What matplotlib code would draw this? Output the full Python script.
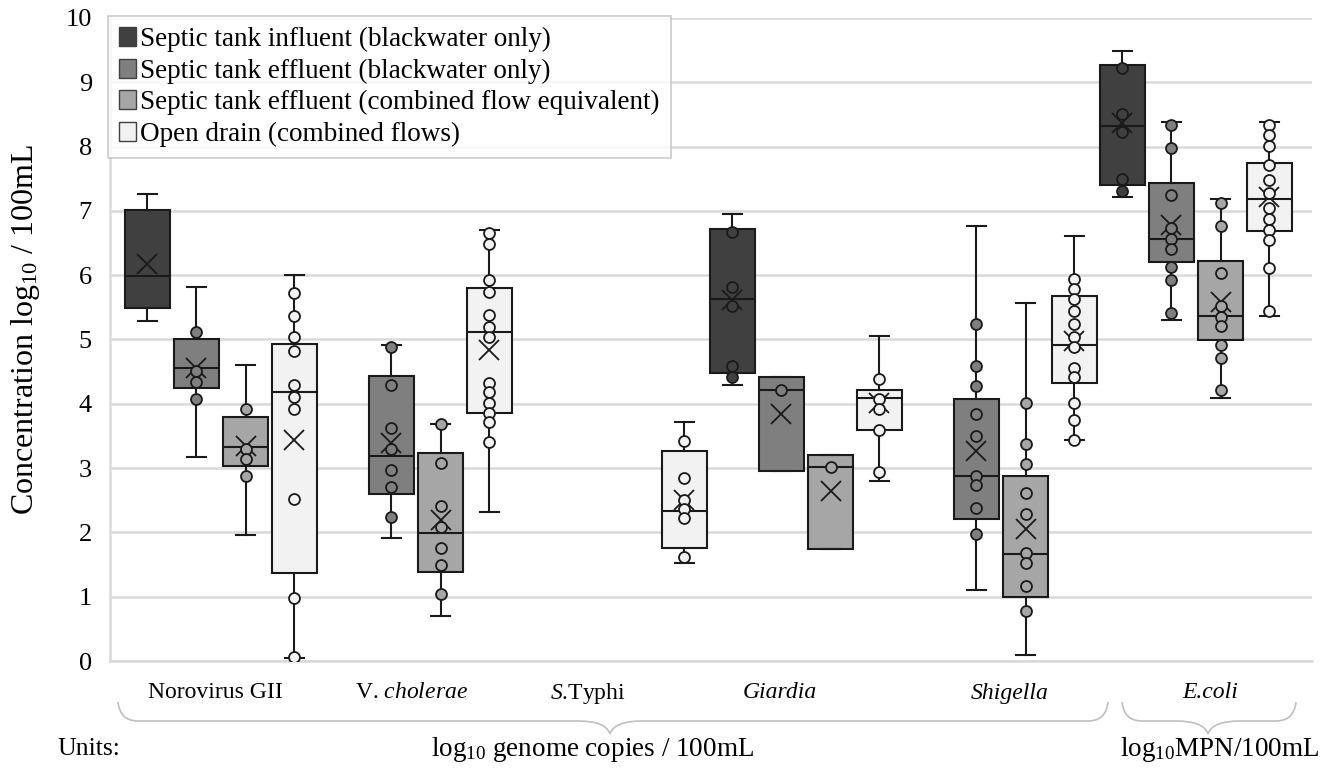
import matplotlib
matplotlib.use("Agg")
import matplotlib.pyplot as plt
from matplotlib.patches import Patch, PathPatch
from matplotlib.path import Path

plt.rcParams.update({
    "font.family": "Liberation Serif",
    "mathtext.fontset": "custom",
    "mathtext.rm": "Liberation Serif",
    "mathtext.it": "Liberation Serif:italic",
    "font.size": 15,
})

GROUPS = ["Norovirus GII", "V. $\\mathit{cholerae}$", "$\\mathit{S}$.Typhi",
          "Giardia", "Shigella", "E.coli"]
GROUP_ITALIC = [False, False, False, True, True, True]
SERIES = ["Septic tank influent (blackwater only)",
          "Septic tank effluent (blackwater only)",
          "Septic tank effluent (combined flow equivalent)",
          "Open drain (combined flows)"]
COLORS = ["#404040", "#7f7f7f", "#a6a6a6", "#f2f2f2"]

# (whisker low, q1, median, q3, whisker high, mean) per group, None = no data
influent_bw = [(5.29, 5.49, 5.99, 7.01, 7.26, 6.18), None, None,
               (4.30, 4.48, 5.63, 6.72, 6.95, 5.62), None,
               (7.22, 7.41, 8.32, 9.27, 9.49, 8.36)]
effluent_bw = [(3.18, 4.25, 4.55, 5.00, 5.81, 4.55),
               (1.91, 2.59, 3.19, 4.44, 4.91, 3.39), None,
               (2.96, 2.96, 4.21, 4.42, 4.42, 3.84),
               (1.10, 2.21, 2.88, 4.07, 6.77, 3.26),
               (5.30, 6.21, 6.56, 7.43, 8.39, 6.78)]
effluent_comb = [(1.96, 3.04, 3.33, 3.79, 4.60, 3.34),
                 (0.70, 1.38, 1.99, 3.23, 3.68, 2.19), None,
                 (1.74, 1.74, 3.01, 3.20, 3.20, 2.65),
                 (0.10, 1.00, 1.67, 2.87, 5.57, 2.05),
                 (4.09, 4.99, 5.37, 6.22, 7.18, 5.59)]
open_drain = [(0.05, 1.37, 4.19, 4.93, 6.01, 3.44),
              (2.31, 3.85, 5.11, 5.80, 6.70, 4.84),
              (1.52, 1.76, 2.34, 3.27, 3.71, 2.50),
              (2.80, 3.60, 4.09, 4.22, 5.05, 4.01),
              (3.43, 4.33, 4.91, 5.67, 6.61, 4.97),
              (5.37, 6.69, 7.18, 7.75, 8.39, 7.21)]

# individual sample points per group
influent_bw_pts = [[], [], [],
                   [6.67, 5.81, 5.52, 4.59, 4.41], [],
                   [9.22, 8.50, 8.23, 7.50, 7.31]]
effluent_bw_pts = [[5.12, 4.51, 4.34, 4.08],
                   [4.89, 4.29, 3.62, 3.29, 2.97, 2.70, 2.24], [],
                   [4.21],
                   [5.24, 4.59, 4.28, 3.84, 3.50, 2.88, 2.74, 2.38, 1.97],
                   [8.34, 7.98, 7.25, 6.74, 6.56, 6.41, 6.12, 5.93, 5.41]]
effluent_comb_pts = [[3.92, 3.29, 3.14, 2.87],
                     [3.68, 3.08, 2.41, 2.09, 1.76, 1.49, 1.04], [],
                     [3.01],
                     [4.02, 3.38, 3.06, 2.62, 2.29, 1.68, 1.53, 1.17, 0.78],
                     [7.13, 6.77, 6.03, 5.52, 5.35, 5.21, 4.91, 4.71, 4.21]]
open_drain_pts = [[5.73, 5.36, 5.04, 4.82, 4.30, 4.10, 3.92, 2.52, 0.98, 0.06],
                  [6.65, 6.48, 5.93, 5.74, 5.38, 5.20, 5.04, 4.33, 4.18, 4.02,
                   3.85, 3.71, 3.40],
                  [3.42, 2.84, 2.50, 2.37, 2.22, 1.61],
                  [4.38, 4.07, 3.92, 3.59, 2.94],
                  [5.94, 5.79, 5.63, 5.44, 5.24, 5.04, 4.88, 4.56, 4.41, 4.02,
                   3.75, 3.44],
                  [8.34, 8.18, 8.01, 7.72, 7.48, 7.28, 7.04, 6.87, 6.70, 6.54,
                   6.11, 5.45]]

STATS = [influent_bw, effluent_bw, effluent_comb, open_drain]
POINTS = [influent_bw_pts, effluent_bw_pts, effluent_comb_pts, open_drain_pts]

W, H = 1332, 776
fig = plt.figure(figsize=(W / 100, H / 100), dpi=100)
ax = fig.add_axes([110 / W, 1 - 661 / H, (1312 - 110) / W, (661 - 18) / H])

OFFS = [-0.377, -0.126, 0.126, 0.377]
BW = 0.23
line_kw = dict(color="#1a1a1a", lw=1.5)

for j in range(4):
    for g in range(len(GROUPS)):
        st = STATS[j][g]
        if st is None:
            continue
        lo, q1, med, q3, hi, mean = st
        pos = g + OFFS[j]
        ax.bxp([dict(whislo=lo, q1=q1, med=med, q3=q3, whishi=hi, mean=mean, fliers=[])],
               positions=[pos], widths=BW, capwidths=0.1, patch_artist=True,
               showmeans=True, showfliers=False,
               boxprops=dict(facecolor=COLORS[j], edgecolor="#1a1a1a", lw=1.5),
               whiskerprops=line_kw, capprops=line_kw,
               medianprops=dict(color="#1a1a1a", lw=1.5),
               meanprops=dict(marker="x", markersize=15, markeredgecolor="#1a1a1a",
                              markeredgewidth=1.3),
               zorder=3)
        pts = POINTS[j][g]
        if pts:
            ax.scatter([pos] * len(pts), pts, s=62, facecolor=COLORS[j],
                       edgecolor="#1a1a1a", lw=1.3, zorder=4)

ax.set_xlim(-0.569, 5.595)
ax.set_ylim(0, 10)
ax.set_yticks(range(11))
ax.set_xticks([])
ax.tick_params(axis="y", length=0, pad=13, labelsize=19)
ax.grid(axis="y", color="#d9d9d9", lw=1.8, zorder=0)
ax.set_axisbelow(True)
for s in ["top", "right"]:
    ax.spines[s].set_visible(False)
for s in ["left", "bottom"]:
    ax.spines[s].set_color("#d9d9d9")
    ax.spines[s].set_linewidth(1.8)
fig.text(26 / W, 1 - 330 / H, "Concentration log$_{10}$ / 100mL", rotation=90,
         ha="center", va="center", fontsize=23)

# category labels
label_px = [215, 411, 588, 780, 1010, 1210]
for name, px, it in zip(GROUPS, label_px, GROUP_ITALIC):
    fig.text(px / W, 1 - 693 / H, name, ha="center", va="center", fontsize=17,
             style="italic" if it else "normal")


def brace(x0, x1, xm, ytop=702, ybot=721, ytip=734, r=20, rt=32):
    P = lambda x, y: (x / W, 1 - y / H)
    verts = [P(x0, ytop), P(x0 + 2, ybot), P(x0 + r, ybot),
             P(xm - rt, ybot), P(xm - 4, ybot), P(xm, ytip),
             P(xm + 4, ybot), P(xm + rt, ybot),
             P(x1 - r, ybot), P(x1 - 2, ybot), P(x1, ytop)]
    codes = [Path.MOVETO, Path.CURVE3, Path.CURVE3,
             Path.LINETO, Path.CURVE3, Path.CURVE3,
             Path.CURVE3, Path.CURVE3,
             Path.LINETO, Path.CURVE3, Path.CURVE3]
    fig.add_artist(PathPatch(Path(verts, codes), transform=fig.transFigure,
                             fill=False, edgecolor="#bfbfbf", lw=1.2))


brace(118, 1108, 610)
brace(1122, 1296, 1208)

fig.text(57 / W, 1 - 749 / H, "Units:", ha="left", va="center", fontsize=18.5)
fig.text(592 / W, 1 - 749 / H, "log$_{10}$ genome copies / 100mL",
         ha="center", va="center", fontsize=19.5)
fig.text(1220 / W, 1 - 749 / H, "log$_{10}$MPN/100mL",
         ha="center", va="center", fontsize=19.5)

handles = [Patch(facecolor=c, edgecolor="#404040", lw=1) for c in COLORS]
leg = fig.legend(handles, SERIES, loc="upper left",
                 bbox_to_anchor=(108 / W, 1 - 16 / H), fontsize=19.5,
                 frameon=True, fancybox=False, edgecolor="#bfbfbf",
                 handlelength=0.65, handleheight=0.7, handletextpad=0.15,
                 labelspacing=0.24, borderpad=0.4, borderaxespad=0)
leg.get_frame().set_linewidth(1.2)
leg.set_zorder(10)

fig.savefig("out.png", dpi=100, facecolor="white")
